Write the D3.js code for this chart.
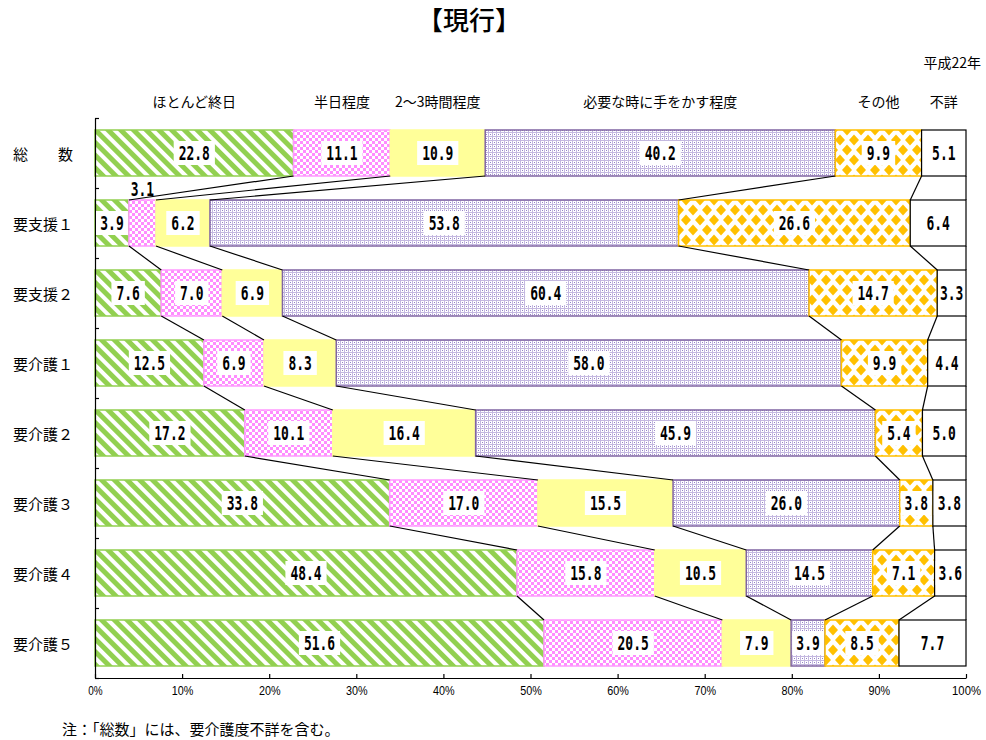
<!DOCTYPE html>
<html><head><meta charset="utf-8">
<script src="https://cdn.jsdelivr.net/npm/d3@7"></script>
<style>body{margin:0;background:#fff}</style>
</head><body><svg id="chart" width="986" height="740"></svg>
<script>
// 要介護度別にみた介護時間の構成割合（平成22年）
const categories = ["総　　数", "要支援１", "要支援２", "要介護１", "要介護２", "要介護３", "要介護４", "要介護５"];
const seriesNames = ["ほとんど終日", "半日程度", "2～3時間程度", "必要な時に手をかす程度", "その他", "不詳"];
const allDay   = [22.8, 3.9, 7.6, 12.5, 17.2, 33.8, 48.4, 51.6];
const halfDay  = [11.1, 3.1, 7.0, 6.9, 10.1, 17.0, 15.8, 20.5];
const fewHours = [10.9, 6.2, 6.9, 8.3, 16.4, 15.5, 10.5, 7.9];
const asNeeded = [40.2, 53.8, 60.4, 58.0, 45.9, 26.0, 14.5, 3.9];
const other    = [9.9, 26.6, 14.7, 9.9, 5.4, 3.8, 7.1, 8.5];
const unknown  = [5.1, 6.4, 3.3, 4.4, 5.0, 3.8, 3.6, 7.7];
const tickLabels = ["0%", "10%", "20%", "30%", "40%", "50%", "60%", "70%", "80%", "90%", "100%"];

const seriesData = [allDay, halfDay, fewHours, asNeeded, other, unknown];
const fills = ["url(#pStripe)", "url(#pCheck)", "#FFFF99", "url(#pDots)", "url(#pDiamond)", "#FFFFFF"];
const strokes = ["#92D050", "#FF99FF", "#FFFF99", "#8064A2", "#FFC000", "#000000"];

const svg = d3.select("#chart");
const jp = "'Noto Sans CJK JP', 'Noto Sans', sans-serif";

// ---- fill patterns ----
const defs = svg.append("defs");
const stripe = defs.append("pattern").attr("id", "pStripe")
  .attr("patternUnits", "userSpaceOnUse").attr("width", 9).attr("height", 9)
  .attr("patternTransform", "rotate(-45)");
stripe.append("rect").attr("width", 9).attr("height", 9).attr("fill", "#fff");
stripe.append("rect").attr("width", 5).attr("height", 9).attr("fill", "#92D050");

const check = defs.append("pattern").attr("id", "pCheck")
  .attr("patternUnits", "userSpaceOnUse").attr("width", 6).attr("height", 6);
check.append("rect").attr("width", 6).attr("height", 6).attr("fill", "#FF8CFF");
check.append("rect").attr("width", 3).attr("height", 3).attr("fill", "#fff");
check.append("rect").attr("x", 3).attr("y", 3).attr("width", 3).attr("height", 3).attr("fill", "#fff");

const dots = defs.append("pattern").attr("id", "pDots")
  .attr("patternUnits", "userSpaceOnUse").attr("width", 4).attr("height", 4);
dots.append("rect").attr("width", 4).attr("height", 4).attr("fill", "#C4B8E0");
dots.append("rect").attr("x", 1).attr("y", 1).attr("width", 3).attr("height", 3).attr("fill", "#fff");
dots.append("rect").attr("x", 2).attr("y", 2).attr("width", 1).attr("height", 1).attr("fill", "#9482C6");

const dia = defs.append("pattern").attr("id", "pDiamond")
  .attr("patternUnits", "userSpaceOnUse").attr("width", 14).attr("height", 20);
dia.append("rect").attr("width", 14).attr("height", 20).attr("fill", "#fff");
[[0, 0], [14, 0], [0, 20], [14, 20], [7, 10]].forEach(([cx, cy]) => {
  dia.append("path")
    .attr("d", `M${cx - 5},${cy}L${cx},${cy - 5.5}L${cx + 5},${cy}L${cx},${cy + 5.5}Z`)
    .attr("fill", "#FFC000");
});

// ---- scales ----
const x = d3.scaleLinear().domain([0, 1]).range([95, 966]);
const y = d3.scaleBand().domain(categories).range([118, 678])
  .paddingInner(24 / 70).paddingOuter(12 / 70);
const bw = y.bandwidth();

const table = categories.map((c, i) => {
  const row = { cat: c };
  seriesNames.forEach((k, j) => row[k] = seriesData[j][i]);
  return row;
});
const layers = d3.stack().keys(seriesNames).offset(d3.stackOffsetExpand)(table);

// ---- bars ----
layers.forEach((layer, k) => {
  svg.append("g").selectAll("rect").data(layer).join("rect")
    .attr("x", d => x(d[0]))
    .attr("y", d => y(d.data.cat))
    .attr("width", d => x(d[1]) - x(d[0]))
    .attr("height", bw)
    .attr("fill", fills[k])
    .attr("stroke", strokes[k])
    .attr("stroke-width", k === 5 ? 1.2 : 1.5);
});

// ---- series lines between bars ----
const lines = svg.append("g").attr("stroke", "#000").attr("stroke-width", 1.2);
layers.forEach(layer => {
  for (let i = 0; i < categories.length - 1; i++) {
    lines.append("line")
      .attr("x1", x(layer[i][1])).attr("y1", y(categories[i]) + bw)
      .attr("x2", x(layer[i + 1][1])).attr("y2", y(categories[i + 1]));
  }
});

// ---- axes ----
const rowScale = d3.scaleLinear().domain([0, categories.length]).range([118, 678]);
svg.append("g").attr("transform", "translate(95,0)")
  .call(d3.axisLeft(rowScale).tickValues(d3.range(0, categories.length + 1))
    .tickSizeInner(-4).tickSizeOuter(0).tickFormat(""))
  .call(g => g.selectAll("path,line").attr("stroke", "#000").attr("stroke-width", 1.2));

const xAxis = svg.append("g").attr("transform", "translate(0,678)")
  .call(d3.axisBottom(x).tickValues(d3.range(0, 1.0001, 0.1))
    .tickFormat((d, i) => tickLabels[i]).tickSizeInner(-4).tickSizeOuter(0).tickPadding(8));
xAxis.selectAll("path,line").attr("stroke", "#000").attr("stroke-width", 1.2);
xAxis.selectAll("text")
  .attr("font-family", "'Liberation Sans', Arial, sans-serif").attr("font-size", 13)
  .attr("fill", "#000")
  .attr("textLength", (d, i) => tickLabels[i].length * 7.2)
  .attr("lengthAdjust", "spacingAndGlyphs");

// ---- value labels ----
const lab = svg.append("g");
layers.forEach((layer, k) => {
  layer.forEach((d, i) => {
    const txt = seriesData[k][i].toFixed(1);
    const cx = x((d[0] + d[1]) / 2);
    const segW = x(d[1]) - x(d[0]);
    const tw = txt.length * 7.8;
    let cy = y(d.data.cat) + bw / 2;
    if (segW < 28) {
      cy = y(d.data.cat) - 11;
    } else {
      const boxW = Math.min(tw + 10, segW - 2);
      lab.append("rect").attr("x", cx - boxW / 2).attr("y", cy - 12)
        .attr("width", boxW).attr("height", 24).attr("fill", "#fff");
    }
    lab.append("text").attr("x", cx).attr("y", cy)
      .attr("text-anchor", "middle").attr("dominant-baseline", "central")
      .attr("font-family", "'DejaVu Sans Mono', monospace").attr("font-weight", "bold")
      .attr("font-size", 19).attr("fill", "#000")
      .attr("textLength", tw).attr("lengthAdjust", "spacingAndGlyphs")
      .text(txt);
  });
});

// ---- category labels ----
svg.append("g").selectAll("text").data(categories).join("text")
  .attr("x", 13).attr("y", d => y(d) + bw / 2)
  .attr("dominant-baseline", "central")
  .attr("font-family", jp).attr("font-size", 15).attr("fill", "#000")
  .text(d => d);

// ---- series headers over the total bar ----
svg.append("g").selectAll("text").data(layers).join("text")
  .attr("x", l => x((l[0][0] + l[0][1]) / 2)).attr("y", 101)
  .attr("text-anchor", "middle").attr("dominant-baseline", "central")
  .attr("font-family", jp).attr("font-size", 14).attr("fill", "#000")
  .text(l => l.key);

// ---- titles and note ----
svg.append("text").attr("x", 469).attr("y", 18)
  .attr("text-anchor", "middle").attr("dominant-baseline", "central")
  .attr("font-family", jp).attr("font-size", 26).attr("font-weight", 500)
  .text("【現行】");
svg.append("text").attr("x", 981).attr("y", 62)
  .attr("text-anchor", "end").attr("dominant-baseline", "central")
  .attr("font-family", jp).attr("font-size", 14)
  .text("平成22年");
svg.append("text").attr("x", 62).attr("y", 728)
  .attr("dominant-baseline", "central")
  .attr("font-family", jp).attr("font-size", 15)
  .text("注：「総数」には、要介護度不詳を含む。");
</script></body></html>
